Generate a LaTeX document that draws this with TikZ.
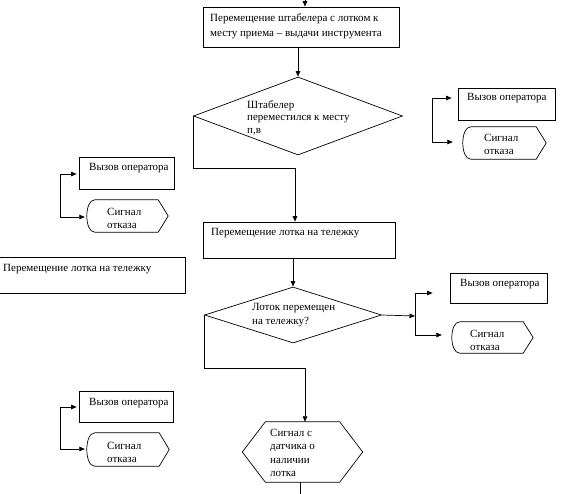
\documentclass[tikz,border=0pt]{standalone}
\usepackage{fontspec}
\setmainfont{Liberation Serif}
\usetikzlibrary{arrows.meta,shapes.geometric,calc}
\tikzset{
  ln/.style={draw=black, line width=0.7pt},
  arr/.style={ln, -{Triangle[length=5.5pt,width=4.5pt]}},
  boxn/.style={draw=black, line width=0.7pt, rectangle, inner sep=0pt},
  frame/.style={rectangle, inner sep=0pt},
  dia/.style={draw=black, line width=0.7pt, diamond, inner sep=0pt},
  txt/.style={inner sep=0pt, anchor=west, align=left, font=\fontsize{11}{13}\selectfont}
}
\newcommand\sigdraw[1]{%
  \draw[ln] ($(#1.north west)+(8,0)$) -- ($(#1.north east)+(-10,0)$) -- (#1.east)
    -- ($(#1.south east)+(-10,0)$) -- ($(#1.south west)+(8,0)$)
    .. controls ($(#1.south west)+(-2.67,0)$) and ($(#1.north west)+(-2.67,0)$) .. ($(#1.north west)+(8,0)$) -- cycle;}
\begin{document}
\begin{tikzpicture}[x=1pt,y=-1pt]
\useasboundingbox (0,0) rectangle (561,494);
% main column
\coordinate (top) at (305,0);
\node[boxn, minimum width=196pt, minimum height=40pt] (t1) at (301,27) {};
\node[txt, font=\fontsize{11}{15}\selectfont] (t1t) at (210,26) {Перемещение штабелера с лотком к\\месту приема – выдачи инструмента};
\node[dia, minimum width=209pt, minimum height=78pt] (d1) at (298,116) {};
\node[txt, font=\fontsize{11}{12.5}\selectfont] (d1t) at (247,117.5) {Штабелер\\переместился к месту\\п,в};
\node[boxn, minimum width=192pt, minimum height=36pt] (b2) at (299,240) {};
\node[txt] (b2t) at (211,233) {Перемещение лотка на тележку};
\node[dia, minimum width=177pt, minimum height=56pt] (d2) at (293,315) {};
\node[txt, font=\fontsize{11}{14}\selectfont] (d2t) at (252,315) {Лоток перемещен\\на тележку?};
\node[frame, minimum width=120pt, minimum height=60pt] (hx) at (302.5,452) {};
\draw[ln] ($(hx.north west)+(23,0)$) -- ($(hx.north east)+(-23,0)$) -- (hx.east)
  -- ($(hx.south east)+(-23,0)$) -- ($(hx.south west)+(23,0)$) -- (hx.west) -- cycle;
\node[txt, font=\fontsize{11}{13.5}\selectfont] (hxt) at (270,453) {Сигнал с\\датчика о\\наличии\\лотка};
\coordinate (bot) at (300,494);
% left lone box
\node[boxn, minimum width=186pt, minimum height=36pt] (lb) at (92,275) {};
\node[txt] (lbt) at (3,269) {Перемещение лотка на тележку};
% connectors of main column
\draw[arr] (top) -- (top |- t1.north);
\draw[arr] (t1.south -| d1.north) -- (d1.north);
\coordinate (c1) at (295,168);
\draw[arr] (d1.west) -- (d1.west |- c1) -- (c1) -- (c1 |- b2.north);
\draw[arr] (b2.south -| d2.north) -- (d2.north);
\coordinate (c2) at (305,368);
\draw[arr] (d2.west) -- (d2.west |- c2) -- (c2) -- (c2 |- hx.north);
\draw[ln] (hx.south -| bot) -- (bot);
% group right 1
\node[boxn, minimum width=97pt, minimum height=32pt] (o1) at (506.5,104) {};
\node[txt] (o1t) at (467,98) {Вызов оператора};
\node[frame, minimum width=83pt, minimum height=32pt] (s1) at (504.5,143) {};
\sigdraw{s1}
\node[txt] (s1t) at (484,144.5) {Сигнал\\отказа};
\coordinate (r1a) at (432,98);
\coordinate (r1b) at (432,142);
\draw[arr, shorten >=6pt] (r1b) -- (r1a) -- (r1a -| o1.west);
\draw[arr, shorten >=10pt] (r1b) -- (r1b -| s1.west);
% group left 1
\node[boxn, minimum width=95pt, minimum height=32pt] (o2) at (126.5,173) {};
\node[txt] (o2t) at (89,168) {Вызов оператора};
\node[frame, minimum width=81pt, minimum height=32pt] (s2) at (127.5,216) {};
\sigdraw{s2}
\node[txt] (s2t) at (107,218.5) {Сигнал\\отказа};
\coordinate (r2a) at (60,174);
\coordinate (r2b) at (60,217);
\draw[arr, shorten >=2pt] (r2b) -- (r2a) -- (r2a -| o2.west);
\draw[arr, shorten >=2pt] (r2b) -- (r2b -| s2.west);
% group left 2
\node[boxn, minimum width=94pt, minimum height=31pt] (o3) at (126,406.5) {};
\node[txt] (o3t) at (89,403) {Вызов оператора};
\node[frame, minimum width=82pt, minimum height=33pt] (s3) at (128,449.5) {};
\sigdraw{s3}
\node[txt] (s3t) at (107,452) {Сигнал\\отказа};
\coordinate (r3a) at (60,407);
\coordinate (r3b) at (60,449);
\draw[arr, shorten >=2pt] (r3b) -- (r3a) -- (r3a -| o3.west);
\draw[arr, shorten >=2pt] (r3b) -- (r3b -| s3.west);
% group right 2
\node[boxn, minimum width=97pt, minimum height=30pt] (o4) at (498.5,288) {};
\node[txt] (o4t) at (460,284) {Вызов оператора};
\node[frame, minimum width=81pt, minimum height=31pt] (s4) at (492.5,337.5) {};
\sigdraw{s4}
\node[txt] (s4t) at (470,340) {Сигнал\\отказа};
\coordinate (r4) at (415,316);
\coordinate (r4a) at (415,293);
\coordinate (r4b) at (415,335);
\draw[arr] (d2.east) -- (r4);
\draw[arr, shorten >=17pt] (r4b) -- (r4a) -- (r4a -| o4.west);
\draw[arr, shorten >=10pt] (r4b) -- (r4b -| s4.west);
\end{tikzpicture}
\end{document}
